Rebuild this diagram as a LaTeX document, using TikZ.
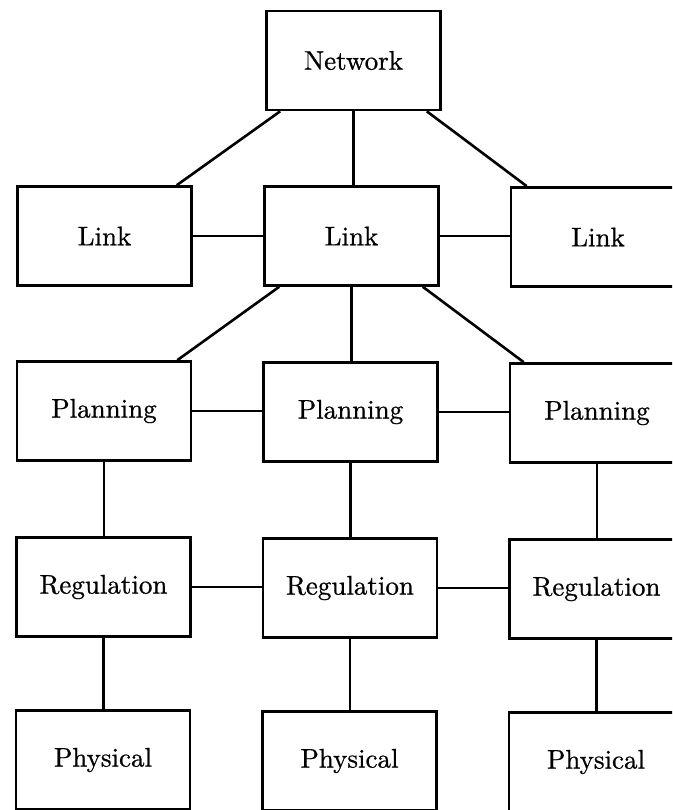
\documentclass[tikz,border=0pt]{standalone}
\usepackage{fontspec}
\usetikzlibrary{calc}
\newfontface\labelfont{lmroman10-regular.otf}[FakeBold=0.7]
\begin{document}
\begin{tikzpicture}[x=1pt,y=-1pt,
  layer/.style={draw, line width=2.6pt, minimum width=174pt, minimum height=99pt,
    inner sep=0pt, font=\labelfont\fontsize{27}{32}\selectfont},
  wire/.style={line width=2.6pt}]
\useasboundingbox (0,0) rectangle (672,810);
\clip (0,0) rectangle (672,810);

% top level
\node[layer] (net) at (353.5,60.5) {Network};

% link level
\node[layer] (lk1) at (104.5,236) {Link};
\node[layer] (lk2) at (351.5,236) {Link};
\node[layer] (lk3) at (598,237) {Link};

% planning level
\node[layer] (pl1) at (104,411) {Planning};
\node[layer] (pl2) at (350.5,412) {Planning};
\node[layer] (pl3) at (597,413) {Planning};

% regulation level
\node[layer] (rg1) at (103.5,587) {Regulation};
\node[layer] (rg2) at (350,588) {Regulation};
\node[layer] (rg3) at (596.5,589) {Regulation};

% physical level
\node[layer] (ph1) at (103,760) {Physical};
\node[layer] (ph2) at (349.5,761) {Physical};
\node[layer] (ph3) at (596,762) {Physical};

% network to links
\draw[wire] ($(net.south west)+(15,0)$) -- ($(lk1.north east)+(-16,0)$);
\draw[wire] (net.south) -- (net.south |- lk2.north);
\draw[wire] ($(net.south east)+(-15,0)$) -- ($(lk3.north west)+(17,0)$);

% middle link to planners
\draw[wire] ($(lk2.south west)+(16,0)$) -- ($(pl1.north east)+(-15,0)$);
\draw[wire] (lk2.south) -- (lk2.south |- pl2.north);
\draw[wire] ($(lk2.south east)+(-17,0)$) -- ($(pl3.north west)+(15,0)$);

% peer connections
\draw[wire] (lk1.east) -- (lk1.east -| lk2.west);
\draw[wire] (lk2.east) -- (lk2.east -| lk3.west);
\draw[wire] (pl1.east) -- (pl1.east -| pl2.west);
\draw[wire] (pl2.east) -- (pl2.east -| pl3.west);
\draw[wire] (rg1.east) -- (rg1.east -| rg2.west);
\draw[wire] (rg2.east) -- (rg2.east -| rg3.west);

% vertical chains
\foreach \i in {1,2,3} {
  \draw[wire] (pl\i.south) -- (pl\i.south |- rg\i.north);
  \draw[wire] (rg\i.south) -- (rg\i.south |- ph\i.north);
}
\end{tikzpicture}
\end{document}
